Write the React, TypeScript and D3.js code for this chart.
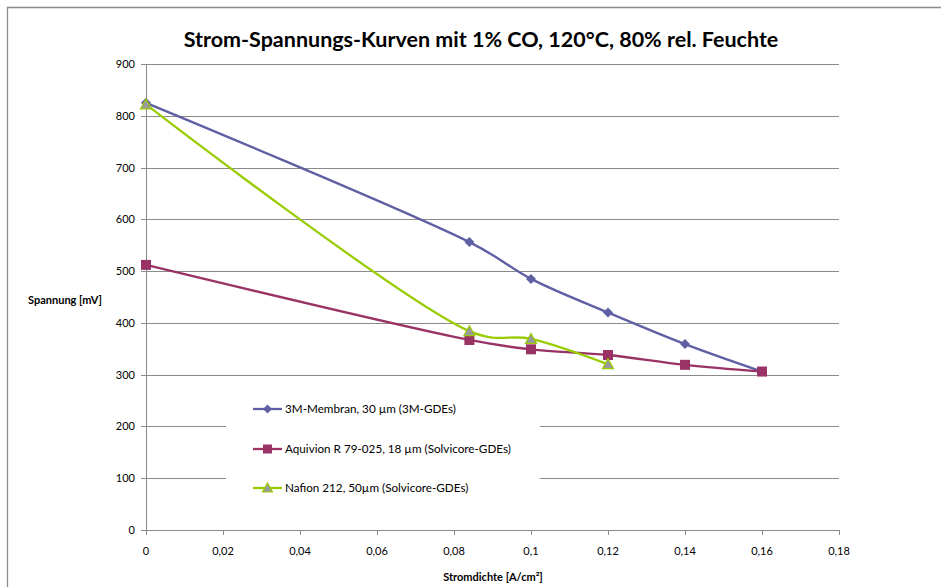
import React from "react";
import * as d3 from "d3";

const xTicks = [0, 0.02, 0.04, 0.06, 0.08, 0.1, 0.12, 0.14, 0.16, 0.18];
const yTicks = [0, 100, 200, 300, 400, 500, 600, 700, 800, 900];

const x3M = [0, 0.084, 0.1, 0.12, 0.14, 0.16];
const y3M = [825, 556, 485, 420, 359, 306];

const xAquivion = [0, 0.084, 0.1, 0.12, 0.14, 0.16];
const yAquivion = [512, 367, 349, 338, 319, 306];

const xNafion = [0, 0.084, 0.1, 0.12];
const yNafion = [822, 384, 369, 320];

const seriesNames = [
  "3M-Membran, 30 µm (3M-GDEs)",
  "Aquivion R 79-025, 18 µm (Solvicore-GDEs)",
  "Nafion 212, 50µm (Solvicore-GDEs)",
];

const W = 941;
const H = 587;
const FONT = "Lato, 'Open Sans', sans-serif";

export default function App() {
  const x = d3.scaleLinear().domain([0, 0.18]).range([146, 839]);
  const y = d3.scaleLinear().domain([0, 900]).range([530, 64]);
  const line = d3
    .line<[number, number]>()
    .x((d) => x(d[0]))
    .y((d) => y(d[1]))
    .curve(d3.curveCatmullRom.alpha(0.42));

  const s3M = x3M.map((v, i) => [v, y3M[i]] as [number, number]);
  const sAq = xAquivion.map((v, i) => [v, yAquivion[i]] as [number, number]);
  const sNa = xNafion.map((v, i) => [v, yNafion[i]] as [number, number]);

  const blue = "#5F5FA3";
  const mag = "#993366";
  const green = "#99CC00";

  const diamond = (cx: number, cy: number, k: string | number, r = 5) => (
    <path
      key={k}
      d={`M${cx},${cy - r}L${cx + r},${cy}L${cx},${cy + r}L${cx - r},${cy}Z`}
      fill={blue}
    />
  );
  const square = (cx: number, cy: number, k: string | number, s = 10) => (
    <rect key={k} x={cx - s / 2} y={cy - s / 2} width={s} height={s} fill={mag} />
  );
  const tri = (cx: number, cy: number, k: string | number, s = 5.5) => (
    <path
      key={k}
      d={`M${cx},${cy - s}L${cx + s},${cy + s * 0.8}L${cx - s},${cy + s * 0.8}Z`}
      fill="#9A9A9A"
      stroke={green}
      strokeWidth={1.2}
    />
  );

  const legendY = [409, 449, 488];

  return (
    <svg width={W} height={H} style={{ position: "absolute", left: 0, top: 0 }}>
      <rect x={0} y={0} width={W} height={H} fill="#fff" />
      {/* chart frame */}
      <path d={`M7.5,${H + 2}V7.5H${W + 2}`} fill="none" stroke="#8c8c8c" strokeWidth={1.3} />

      {/* title */}
      <text
        x={481}
        y={47}
        textAnchor="middle"
        fontFamily={FONT}
        fontWeight="bold"
        fontSize={21.5}
        fill="#000"
      >
        Strom-Spannungs-Kurven mit 1% CO, 120°C, 80% rel. Feuchte
      </text>

      {/* gridlines */}
      {yTicks.map((t) => (
        <line key={t} x1={146} x2={839} y1={Math.round(y(t)) + 0.5} y2={Math.round(y(t)) + 0.5} stroke="#8a8a8a" strokeWidth={1} />
      ))}
      {/* y axis */}
      <line x1={146.5} x2={146.5} y1={64} y2={530} stroke="#8a8a8a" />
      {yTicks.map((t) => (
        <g key={"yt" + t}>
          <line x1={141} x2={146} y1={Math.round(y(t)) + 0.5} y2={Math.round(y(t)) + 0.5} stroke="#8a8a8a" />
          <text x={135} y={y(t) + 4} textAnchor="end" fontFamily={FONT} fontSize={11} fill="#000">
            {t}
          </text>
        </g>
      ))}
      {/* x axis ticks */}
      {xTicks.map((t) => (
        <g key={"xt" + t}>
          <line x1={Math.round(x(t)) + 0.5} x2={Math.round(x(t)) + 0.5} y1={530} y2={535} stroke="#8a8a8a" />
          <text x={x(t)} y={555} textAnchor="middle" fontFamily={FONT} fontSize={11} fill="#000">
            {String(t).replace(".", ",")}
          </text>
        </g>
      ))}

      {/* axis titles */}
      <text x={65} y={304} textAnchor="middle" fontFamily={FONT} fontWeight="bold" fontSize={11} fill="#000">
        Spannung [mV]
      </text>
      <text x={493} y={581} textAnchor="middle" fontFamily={FONT} fontWeight="bold" fontSize={11} fill="#000">
        Stromdichte [A/cm²]
      </text>

      {/* legend background */}
      <rect x={226} y={394} width={314} height={108} fill="#fff" />

      {/* series lines */}
      <path d={line(s3M) || ""} fill="none" stroke={blue} strokeWidth={2.3} />
      <path d={line(sAq) || ""} fill="none" stroke={mag} strokeWidth={2.3} />
      <path d={line(sNa) || ""} fill="none" stroke={green} strokeWidth={2.3} />

      {s3M.map((d, i) => diamond(x(d[0]), y(d[1]), "d" + i))}
      {sAq.map((d, i) => square(x(d[0]), y(d[1]), "s" + i))}
      {sNa.map((d, i) => tri(x(d[0]), y(d[1]), "t" + i))}

      {/* legend */}
      {seriesNames.map((name, i) => {
        const ly = legendY[i];
        const col = [blue, mag, green][i];
        return (
          <g key={"lg" + i}>
            <line x1={253} x2={282} y1={ly} y2={ly} stroke={col} strokeWidth={2.3} />
            {i === 0 && diamond(267.5, ly, "ld", 4.5)}
            {i === 1 && square(267.5, ly, "ls", 9)}
            {i === 2 && tri(267.5, ly, "lt", 5)}
            <text x={285} y={ly + 4} fontFamily={FONT} fontSize={11.7} fill="#000">
              {name}
            </text>
          </g>
        );
      })}
    </svg>
  );
}
